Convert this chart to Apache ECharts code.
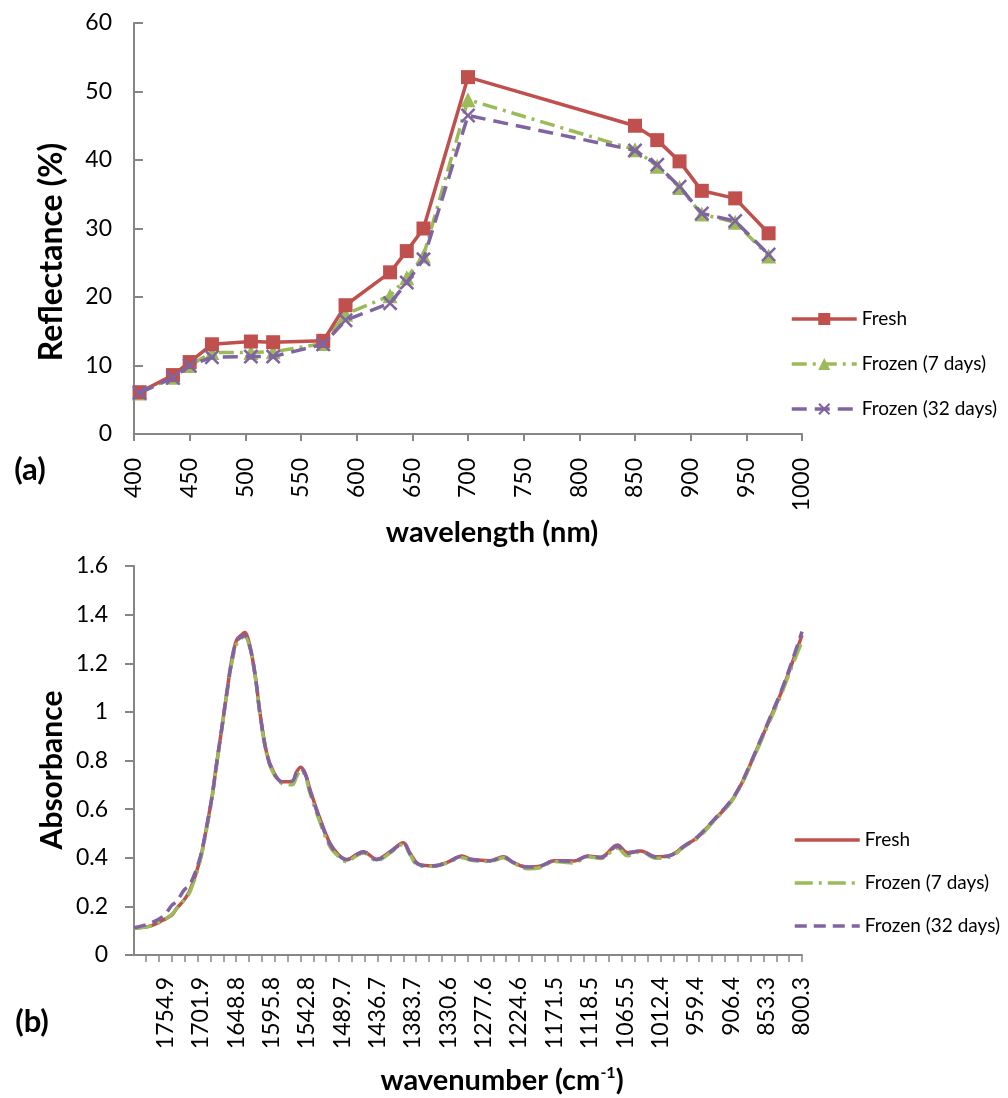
<!DOCTYPE html>
<html>
<head>
<meta charset="utf-8">
<script src="https://cdn.jsdelivr.net/npm/echarts@6/dist/echarts.min.js"></script>
<style>
  html, body { margin: 0; padding: 0; background: #fff; }
  #chart { width: 1008px; height: 1098px; }
</style>
</head>
<body>
<div id="chart"></div>
<script>
// ---------- (a) reflectance ----------
const wavelengths = [405, 435, 450, 470, 505, 525, 570, 590, 630, 645, 660, 700, 850, 870, 890, 910, 940, 970];
const reflFresh    = [6.1, 8.6, 10.5, 13.1, 13.5, 13.4, 13.6, 18.8, 23.6, 26.7, 30.0, 52.1, 45.0, 42.9, 39.8, 35.5, 34.4, 29.3];
const reflFrozen7  = [6.0, 8.3, 10.0, 11.9, 11.9, 12.0, 13.2, 17.5, 20.2, 22.8, 26.0, 48.8, 41.5, 39.1, 36.0, 32.1, 30.9, 26.0];
const reflFrozen32 = [6.0, 8.2, 10.0, 11.2, 11.3, 11.3, 13.1, 16.6, 19.1, 22.1, 25.5, 46.5, 41.4, 39.3, 36.1, 32.2, 31.1, 26.2];

// ---------- (b) absorbance ----------
const wavenumbers = [1802, 1778, 1758, 1745, 1738, 1727, 1718, 1703, 1693, 1685, 1678, 1670, 1663, 1655, 1648, 1640, 1636, 1628, 1620, 1613, 1603, 1593, 1580, 1565, 1558, 1552, 1545, 1538, 1523, 1508, 1495, 1483, 1470, 1458, 1438, 1418, 1398, 1388, 1375, 1353, 1333, 1310, 1297, 1268, 1248, 1233, 1212, 1192, 1172, 1142, 1122, 1102, 1077, 1062, 1042, 1020, 997, 977, 957, 932, 907, 892, 877, 862, 847, 832, 817, 800.3];
const absFresh = [0.110, 0.119, 0.144, 0.165, 0.192, 0.226, 0.267, 0.391, 0.528, 0.651, 0.789, 0.939, 1.076, 1.220, 1.296, 1.318, 1.326, 1.268, 1.145, 0.994, 0.830, 0.754, 0.713, 0.713, 0.754, 0.772, 0.745, 0.680, 0.560, 0.459, 0.411, 0.391, 0.411, 0.425, 0.394, 0.425, 0.462, 0.418, 0.374, 0.367, 0.380, 0.407, 0.394, 0.388, 0.404, 0.380, 0.361, 0.366, 0.388, 0.387, 0.407, 0.402, 0.452, 0.421, 0.428, 0.404, 0.411, 0.448, 0.484, 0.555, 0.631, 0.699, 0.789, 0.884, 0.980, 1.076, 1.186, 1.315];
const absFrozen7 = [0.110, 0.119, 0.142, 0.168, 0.192, 0.226, 0.260, 0.385, 0.520, 0.645, 0.785, 0.935, 1.070, 1.205, 1.280, 1.305, 1.310, 1.260, 1.140, 0.985, 0.825, 0.748, 0.705, 0.700, 0.735, 0.760, 0.735, 0.665, 0.545, 0.445, 0.405, 0.383, 0.405, 0.420, 0.388, 0.420, 0.455, 0.412, 0.366, 0.365, 0.378, 0.400, 0.390, 0.385, 0.400, 0.378, 0.355, 0.360, 0.385, 0.378, 0.404, 0.397, 0.440, 0.408, 0.425, 0.398, 0.405, 0.445, 0.480, 0.552, 0.628, 0.695, 0.784, 0.878, 0.972, 1.068, 1.175, 1.290];
const absFrozen32 = [0.112, 0.130, 0.160, 0.205, 0.220, 0.267, 0.290, 0.400, 0.530, 0.652, 0.790, 0.940, 1.075, 1.215, 1.290, 1.310, 1.315, 1.265, 1.145, 0.992, 0.828, 0.752, 0.712, 0.715, 0.752, 0.765, 0.742, 0.675, 0.555, 0.455, 0.410, 0.393, 0.410, 0.424, 0.392, 0.424, 0.458, 0.416, 0.372, 0.366, 0.380, 0.405, 0.393, 0.387, 0.403, 0.380, 0.362, 0.366, 0.387, 0.386, 0.406, 0.401, 0.447, 0.418, 0.428, 0.403, 0.410, 0.448, 0.486, 0.558, 0.634, 0.702, 0.792, 0.888, 0.985, 1.082, 1.195, 1.330];

const wavenumberLabels = [1754.9, 1701.9, 1648.8, 1595.8, 1542.8, 1489.7, 1436.7, 1383.7, 1330.6, 1277.6, 1224.6, 1171.5, 1118.5, 1065.5, 1012.4, 959.4, 906.4, 853.3, 800.3];
const seriesNames = ['Fresh', 'Frozen (7 days)', 'Frozen (32 days)'];

const TICK_STEP = 19.285; // minor category tick spacing on the wavenumber axis
const tickValues = [];
for (let v = 800.3; v <= 1802; v += TICK_STEP) tickValues.push(+v.toFixed(2));

const RED = '#C0504D', GREEN = '#9BBB59', PURPLE = '#8064A2';
const AXIS = '#868686';
const FONT = 'Lato';
const X_SYMBOL = 'path://M0,1.2 L1.2,0 L5,3.8 L8.8,0 L10,1.2 L6.2,5 L10,8.8 L8.8,10 L5,6.2 L1.2,10 L0,8.8 L3.8,5 Z';

function pairs(xs, ys) { return xs.map((x, i) => [x, ys[i]]); }

const chart = echarts.init(document.getElementById('chart'), null, { renderer: 'canvas' });

const axisLineStyle = { lineStyle: { color: AXIS, width: 2 } };
const tickLabel = { color: '#000', fontFamily: FONT, fontSize: 23 };

const option = {
  backgroundColor: '#fff',
  animation: false,
  textStyle: { fontFamily: FONT },
  grid: [
    { left: 134, top: 23, width: 668, height: 411, containLabel: false },
    { left: 134, top: 566, width: 668, height: 389, containLabel: false }
  ],
  xAxis: [
    {
      gridIndex: 0, type: 'value', min: 400, max: 1000, interval: 50,
      axisLine: axisLineStyle, splitLine: { show: false },
      axisTick: { show: true, inside: false, length: 7, lineStyle: { color: AXIS, width: 2 } },
      axisLabel: Object.assign({ rotate: 90, margin: 24, formatter: v => String(v) }, tickLabel)
    },
    {
      gridIndex: 1, type: 'value', min: 800.3, max: 1802, inverse: true,
      axisLine: axisLineStyle, splitLine: { show: false },
      axisTick: { show: true, inside: false, length: 7, customValues: tickValues, lineStyle: { color: AXIS, width: 1.5 } },
      axisLabel: Object.assign({ rotate: 90, margin: 22, customValues: wavenumberLabels,
        formatter: v => Number(v).toFixed(1) }, tickLabel)
    }
  ],
  yAxis: [
    {
      gridIndex: 0, type: 'value', min: 0, max: 60, interval: 10,
      axisLine: Object.assign({ show: true }, axisLineStyle), splitLine: { show: false },
      axisTick: { show: true, inside: true, length: 9, lineStyle: { color: AXIS, width: 2 } },
      axisLabel: Object.assign({ margin: 22 }, tickLabel)
    },
    {
      gridIndex: 1, type: 'value', min: 0, max: 1.6, interval: 0.2,
      axisLine: Object.assign({ show: true }, axisLineStyle), splitLine: { show: false },
      axisTick: { show: true, inside: false, length: 9, lineStyle: { color: AXIS, width: 2 } },
      axisLabel: Object.assign({ margin: 26 }, tickLabel)
    }
  ],
  legend: [
    {
      orient: 'vertical', left: 785, top: 304, itemWidth: 65, itemHeight: 15, itemGap: 25,
      lineStyle: { width: 3.5 },
      textStyle: { fontFamily: FONT, fontSize: 19, color: '#000', lineHeight: 20 },
      data: seriesNames
    },
    {
      orient: 'vertical', left: 788, top: 825, itemWidth: 65, itemHeight: 14, itemGap: 23,
      itemStyle: { opacity: 0 },
      lineStyle: { width: 3.5 },
      textStyle: { fontFamily: FONT, fontSize: 19, color: '#000', lineHeight: 20 },
      data: seriesNames.map(n => n + ' [b]'),
      formatter: n => n.replace(' [b]', '')
    }
  ],
  series: [
    {
      name: seriesNames[0], type: 'line', xAxisIndex: 0, yAxisIndex: 0,
      data: pairs(wavelengths, reflFresh),
      symbol: 'rect', symbolSize: 14, color: RED,
      lineStyle: { color: RED, width: 3.5 }, itemStyle: { color: RED }, z: 4
    },
    {
      name: seriesNames[1], type: 'line', xAxisIndex: 0, yAxisIndex: 0,
      data: pairs(wavelengths, reflFrozen7),
      symbol: 'triangle', symbolSize: 15, color: GREEN,
      lineStyle: { color: GREEN, width: 3.5, type: [15, 6, 3, 6] }, itemStyle: { color: GREEN }, z: 3
    },
    {
      name: seriesNames[2], type: 'line', xAxisIndex: 0, yAxisIndex: 0,
      data: pairs(wavelengths, reflFrozen32),
      symbol: X_SYMBOL, symbolSize: 15, color: PURPLE,
      lineStyle: { color: PURPLE, width: 3.5, type: [15, 8] }, itemStyle: { color: PURPLE }, z: 5
    },
    {
      name: seriesNames[0] + ' [b]', type: 'line', xAxisIndex: 1, yAxisIndex: 1,
      data: pairs(wavenumbers, absFresh), smooth: 0.35, symbol: 'none', color: RED,
      lineStyle: { color: RED, width: 3.5 }, z: 3
    },
    {
      name: seriesNames[1] + ' [b]', type: 'line', xAxisIndex: 1, yAxisIndex: 1,
      data: pairs(wavenumbers, absFrozen7), smooth: 0.35, symbol: 'none', color: GREEN,
      lineStyle: { color: GREEN, width: 3.5, type: [18, 6, 3, 6] }, z: 4
    },
    {
      name: seriesNames[2] + ' [b]', type: 'line', xAxisIndex: 1, yAxisIndex: 1,
      data: pairs(wavenumbers, absFrozen32), smooth: 0.35, symbol: 'none', color: PURPLE,
      lineStyle: { color: PURPLE, width: 3.5, type: [12, 7] }, z: 5
    }
  ],
  graphic: [
    { type: 'text', x: 52, y: 252, rotation: Math.PI / 2,
      style: { text: 'Reflectance (%)', font: 'bold 32px Lato', fill: '#000', align: 'center', verticalAlign: 'middle' } },
    { type: 'text', x: 52, y: 770, rotation: Math.PI / 2,
      style: { text: 'Absorbance', font: 'bold 30px Lato', fill: '#000', align: 'center', verticalAlign: 'middle' } },
    { type: 'text', x: 492, y: 533,
      style: { text: 'wavelength (nm)', font: 'bold 29px Lato', fill: '#000', align: 'center', verticalAlign: 'middle' } },
    { type: 'text', x: 502, y: 1080,
      style: {
        text: '{m|wavenumber (cm}{s|-1}{m|)}', align: 'center', verticalAlign: 'middle',
        rich: {
          m: { font: 'bold 29px Lato', fill: '#000', color: '#000', verticalAlign: 'bottom' },
          s: { font: 'bold 16px Lato', fill: '#000', color: '#000', verticalAlign: 'top', padding: [0, 0, 14, 0] }
        }
      } },
    { type: 'text', x: 30, y: 470,
      style: { text: '(a)', font: 'bold 31px Lato', fill: '#000', align: 'center', verticalAlign: 'middle' } },
    { type: 'text', x: 32, y: 1022,
      style: { text: '(b)', font: 'bold 31px Lato', fill: '#000', align: 'center', verticalAlign: 'middle' } }
  ]
};

chart.setOption(option);
</script>
</body>
</html>
